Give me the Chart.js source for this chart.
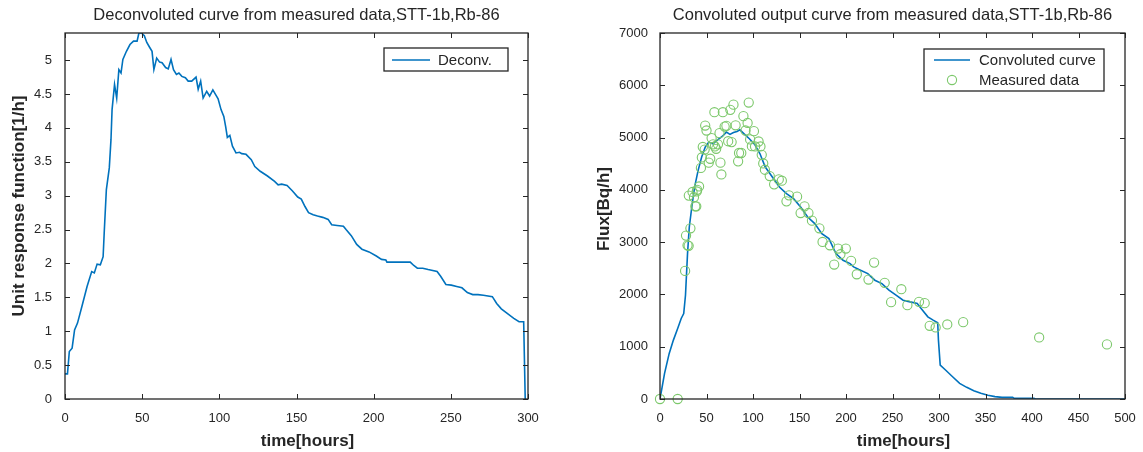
<!DOCTYPE html>
<html>
<head>
<meta charset="utf-8">
<script src="https://cdn.jsdelivr.net/npm/chart.js@4.4.1/dist/chart.umd.min.js"></script>
<style>
html,body{margin:0;padding:0;background:#fff;width:1143px;height:452px;overflow:hidden;}
canvas{position:absolute;top:0;}
#c1{left:0;}
#c2{left:580px;}
</style>
</head>
<body>
<canvas id="c1" width="560" height="452"></canvas>
<canvas id="c2" width="563" height="452"></canvas>
<script>
// ---------- Data (left chart) ----------
const deconvTime = [0,1.6,2.8,4.6,6.2,8.1,10.9,14.3,17.3,19,20.8,22.9,24.7,25.4,26.8,28.7,29.8,30.5,32.1,33.5,34.9,36.3,37.5,39.8,42.1,44.4,46.7,47.9,49.5,51.4,53,54.8,56.4,57.6,59.4,61.3,62.9,65.2,66.9,68.7,70.3,72.2,73.8,75.7,78,79.8,82.1,84.9,86.3,87.9,89.5,91.8,93.7,95.8,97.6,99.2,101.1,102.9,104.1,105.2,106.8,108.5,110.8,113.1,114.5,117.3,120.7,123,126.5,131.2,135.8,138.1,140.4,143.9,147.4,150.8,153.1,155.5,157.8,160.8,163.6,167,170.5,172.8,176.3,180.4,182.1,185.5,189,192.4,197,201.7,205.1,207.9,208.6,223.7,226,228.3,231.8,235.3,241.1,243.4,246.8,250.3,253.8,257.2,260.7,264.2,267.6,271.1,276.9,279.7,282.7,286.1,290.8,294.2,297.2,298.2];
const deconvValue = [0.37,0.37,0.70,0.75,1.02,1.12,1.36,1.66,1.88,1.86,1.99,1.98,2.10,2.45,3.09,3.41,3.83,4.27,4.64,4.44,4.86,4.81,5.01,5.13,5.23,5.28,5.28,5.40,5.40,5.36,5.26,5.19,5.13,4.86,5.03,4.97,4.96,4.89,4.87,5.01,4.86,4.79,4.81,4.76,4.74,4.69,4.69,4.75,4.57,4.69,4.44,4.54,4.47,4.56,4.49,4.43,4.27,4.17,4.02,3.86,3.89,3.73,3.63,3.64,3.62,3.61,3.53,3.43,3.36,3.29,3.21,3.16,3.17,3.15,3.07,2.98,2.95,2.84,2.75,2.72,2.70,2.68,2.65,2.57,2.56,2.55,2.50,2.41,2.28,2.21,2.17,2.11,2.06,2.05,2.02,2.02,1.97,1.93,1.93,1.91,1.88,1.81,1.69,1.68,1.66,1.64,1.57,1.54,1.54,1.53,1.51,1.41,1.33,1.27,1.19,1.14,1.14,0];
const leftXTicks = [0,50,100,150,200,250,300];
const leftYTicks = [0,0.5,1,1.5,2,2.5,3,3.5,4,4.5,5];

// ---------- Data (right chart) ----------
const convTime = [0,4.9,9.9,14.4,19,22.8,25.5,27.4,29.6,31.5,34.2,37.2,41,44.8,48.6,52.4,57,61.9,66.9,71.4,75.2,79,82.8,85.9,90.4,96.1,101.8,107.5,113.2,120.8,128.4,136,143.6,151.2,158.8,166.4,174,181.6,189.2,196.8,204.4,208.2,213.9,223.4,231,238.6,246.2,253.8,261.4,269,276.6,282.3,288,293.7,298.6,299.4,301.3,307,314.6,322.2,329.8,337.4,345,352.6,360.2,367.8,379.2,381,402,404,500];
const convFlux = [0,490,872,1126,1350,1540,1635,1985,2781,3290,3672,4054,4372,4627,4817,4913,4881,4957,5021,5104,5060,5098,5117,5148,5072,4977,4868,4690,4436,4245,4054,3927,3831,3672,3481,3354,3163,3067,2781,2654,2590,2526,2476,2399,2272,2208,2081,1986,1890,1858,1826,1699,1572,1508,1457,1126,649,554,426,299,223,159,108,70,45,32,32,13,13,0,0];
const measTime = [0,19,27,28,29.6,30.8,31,32.7,35,36.5,38,39,40,42,39.5,44,45,46,48,48.6,50,52.4,54,55.5,57,58.5,59,60.4,62.3,64,65,66,67.6,69.5,71.4,73.3,75.6,77,79,81.3,84,85,87.4,89.7,92,94.2,95.4,96.9,98.8,101,102.2,106,108,109.4,111,112.8,118,122.7,127.7,131,136,138.7,147.4,151.2,155.4,159.6,163.4,171.4,174.8,182.7,187.3,191.5,194,199.8,205.5,211.6,224.2,230.2,241.6,248.5,259.5,266,278.5,284.6,290,296.4,308.9,326,407.7,480.6];
const measFlux = [0,0,2450,3125,2940,2930,3890,3265,3960,3860,3685,3685,4000,4065,3970,4420,4620,4820,4770,5230,5135,4520,4595,4990,4870,5485,4830,4785,4870,5085,4520,4295,5485,5210,5225,4930,5530,4913,5630,5235,4545,4705,4705,5410,5135,5280,5670,4965,4836,5123,4830,4925,4830,4670,4505,4385,4264,4105,4200,4175,3780,3895,3870,3557,3685,3557,3411,3265,3004,2940,2571,2877,2768,2877,2641,2386,2285,2609,2221,1852,2100,1795,1858,1833,1400,1368,1426,1470,1177,1044];
const rightXTicks = [0,50,100,150,200,250,300,350,400,450,500];
const rightYTicks = [0,1000,2000,3000,4000,5000,6000,7000];

// ---------- Styling ----------
const FONT = '"Liberation Sans", Arial, Helvetica, sans-serif';
const INK = '#262626';
const BLUE = '#0072bd';
const GREEN = '#7cc86b';

function toXY(xs, ys){ return xs.map((v,i)=>({x:v, y:ys[i]})); }

// inward tick marks, axes box, axis labels and boxed legend (MATLAB look)
const matlabAxes = {
  id: 'matlabAxes',
  afterDatasetsDraw(chart, args, opts){
    const {ctx, chartArea:{left,right,top,bottom}, scales:{x,y}} = chart;
    ctx.save();
    ctx.strokeStyle = INK;
    ctx.lineWidth = 1;
    ctx.beginPath();
    opts.xTicks.forEach(v=>{
      const px = Math.round(x.getPixelForValue(v))+0.5;
      ctx.moveTo(px,bottom); ctx.lineTo(px,bottom-5);
      ctx.moveTo(px,top); ctx.lineTo(px,top+5);
    });
    opts.yTicks.forEach(v=>{
      const py = Math.round(y.getPixelForValue(v))+0.5;
      ctx.moveTo(left,py); ctx.lineTo(left+5,py);
      ctx.moveTo(right,py); ctx.lineTo(right-5,py);
    });
    ctx.stroke();
    ctx.lineWidth = 1.3;
    ctx.strokeRect(left, top, right-left, bottom-top);

    // axis labels
    ctx.fillStyle = INK;
    ctx.font = 'bold 17px ' + FONT;
    ctx.textAlign = 'center';
    ctx.textBaseline = 'middle';
    ctx.fillText(opts.xLabel.text, (left+right)/2 + opts.xLabel.dx, opts.xLabel.y);
    ctx.save();
    ctx.translate(opts.yLabel.x, (top+bottom)/2 + opts.yLabel.dy);
    ctx.rotate(-Math.PI/2);
    ctx.fillText(opts.yLabel.text, 0, 0);
    ctx.restore();

    // legend box
    const L = opts.legend;
    const bx = left + L.dx, by = top + L.dy;
    ctx.fillStyle = '#fff';
    ctx.fillRect(bx, by, L.w, L.h);
    ctx.lineWidth = 1.3;
    ctx.strokeStyle = INK;
    ctx.strokeRect(bx, by, L.w, L.h);
    ctx.font = '15px ' + FONT;
    ctx.textBaseline = 'middle';
    ctx.textAlign = 'left';
    L.items.forEach((it, i)=>{
      const ds = chart.data.datasets[it.ds];
      const cy = by + L.firstY + i*L.rowH;
      if (it.kind === 'line'){
        ctx.strokeStyle = ds.borderColor; ctx.lineWidth = 1.6;
        ctx.beginPath(); ctx.moveTo(bx+L.lx0, cy); ctx.lineTo(bx+L.lx1, cy); ctx.stroke();
      } else {
        ctx.strokeStyle = ds.borderColor; ctx.lineWidth = 1.1;
        ctx.beginPath(); ctx.arc(bx+(L.lx0+L.lx1)/2, cy, 4.6, 0, Math.PI*2); ctx.stroke();
      }
      ctx.fillStyle = INK;
      ctx.fillText(ds.label, bx+L.tx, cy+1);
    });
    ctx.restore();
  }
};

function baseScales(xMax, yMax, xTicks, yTicks, yWidth, labPad){
  return {
    x: {
      type:'linear', min:0, max:xMax,
      grid:{display:false}, border:{display:false},
      afterBuildTicks: s => { s.ticks = xTicks.map(v=>({value:v})); },
      afterFit: s => { s.height = 53; },
      ticks:{ color:INK, font:{family:FONT, size:13}, padding:4, maxRotation:0, autoSkip:false },
      title:{ display:false }
    },
    y: {
      type:'linear', min:0, max:yMax,
      grid:{display:false}, border:{display:false},
      afterBuildTicks: s => { s.ticks = yTicks.map(v=>({value:v})); },
      afterFit: s => { s.width = yWidth; },
      ticks:{ color:INK, font:{family:FONT, size:13}, padding:labPad, autoSkip:false, callback: v=>String(v) },
      title:{ display:false }
    }
  };
}

new Chart(document.getElementById('c1'), {
  type:'scatter',
  data:{ datasets:[{
    label:'Deconv.',
    data: toXY(deconvTime, deconvValue),
    showLine:true, borderColor:BLUE, backgroundColor:BLUE, borderWidth:1.6,
    pointRadius:0, tension:0
  }]},
  options:{
    responsive:false, animation:false, devicePixelRatio:1,
    layout:{ padding:{left:0, right:32, top:0, bottom:0} },
    scales: baseScales(300, 5.4, leftXTicks, leftYTicks, 65, 5),
    plugins:{
      legend:{display:false}, tooltip:{enabled:false},
      title:{ display:true, fullSize:false, text:'Deconvoluted curve from measured data,STT-1b,Rb-86', color:INK,
        font:{family:FONT, size:16.5, weight:'normal'}, padding:{top:6, bottom:7.2} },
      matlabAxes:{ xTicks:leftXTicks, yTicks:leftYTicks,
        xLabel:{ text:'time[hours]', dx:11, y:441 },
        yLabel:{ text:'Unit response function[1/h]', x:19, dy:-10 },
        legend:{ dx:319, dy:15, w:124, h:23, firstY:12, rowH:20, lx0:8, lx1:46, tx:54,
          items:[{ds:0, kind:'line'}] } }
    }
  },
  plugins:[matlabAxes]
});

new Chart(document.getElementById('c2'), {
  type:'scatter',
  data:{ datasets:[
    { label:'Convoluted curve', data: toXY(convTime, convFlux), showLine:true, borderColor:BLUE, backgroundColor:BLUE,
      borderWidth:1.6, pointRadius:0, tension:0, order:2 },
    { label:'Measured data', data: toXY(measTime, measFlux), showLine:false, borderColor:GREEN, backgroundColor:'rgba(0,0,0,0)',
      borderWidth:1.1, pointRadius:4.6, pointStyle:'circle', clip:false, order:1 }
  ]},
  options:{
    responsive:false, animation:false, devicePixelRatio:1,
    layout:{ padding:{left:0, right:18, top:0, bottom:0} },
    scales: baseScales(500, 7000, rightXTicks, rightYTicks, 80, 4),
    plugins:{
      legend:{display:false}, tooltip:{enabled:false},
      title:{ display:true, fullSize:false, text:'Convoluted output curve from measured data,STT-1b,Rb-86', color:INK,
        font:{family:FONT, size:16.5, weight:'normal'}, padding:{top:6, bottom:7.2} },
      matlabAxes:{ xTicks:rightXTicks, yTicks:rightYTicks,
        xLabel:{ text:'time[hours]', dx:11, y:441 },
        yLabel:{ text:'Flux[Bq/h]', x:24, dy:-7 },
        legend:{ dx:264, dy:16, w:180, h:42, firstY:11, rowH:20, lx0:10, lx1:46, tx:55,
          items:[{ds:0, kind:'line'},{ds:1, kind:'circle'}] } }
    }
  },
  plugins:[matlabAxes]
});
</script>
</body>
</html>
